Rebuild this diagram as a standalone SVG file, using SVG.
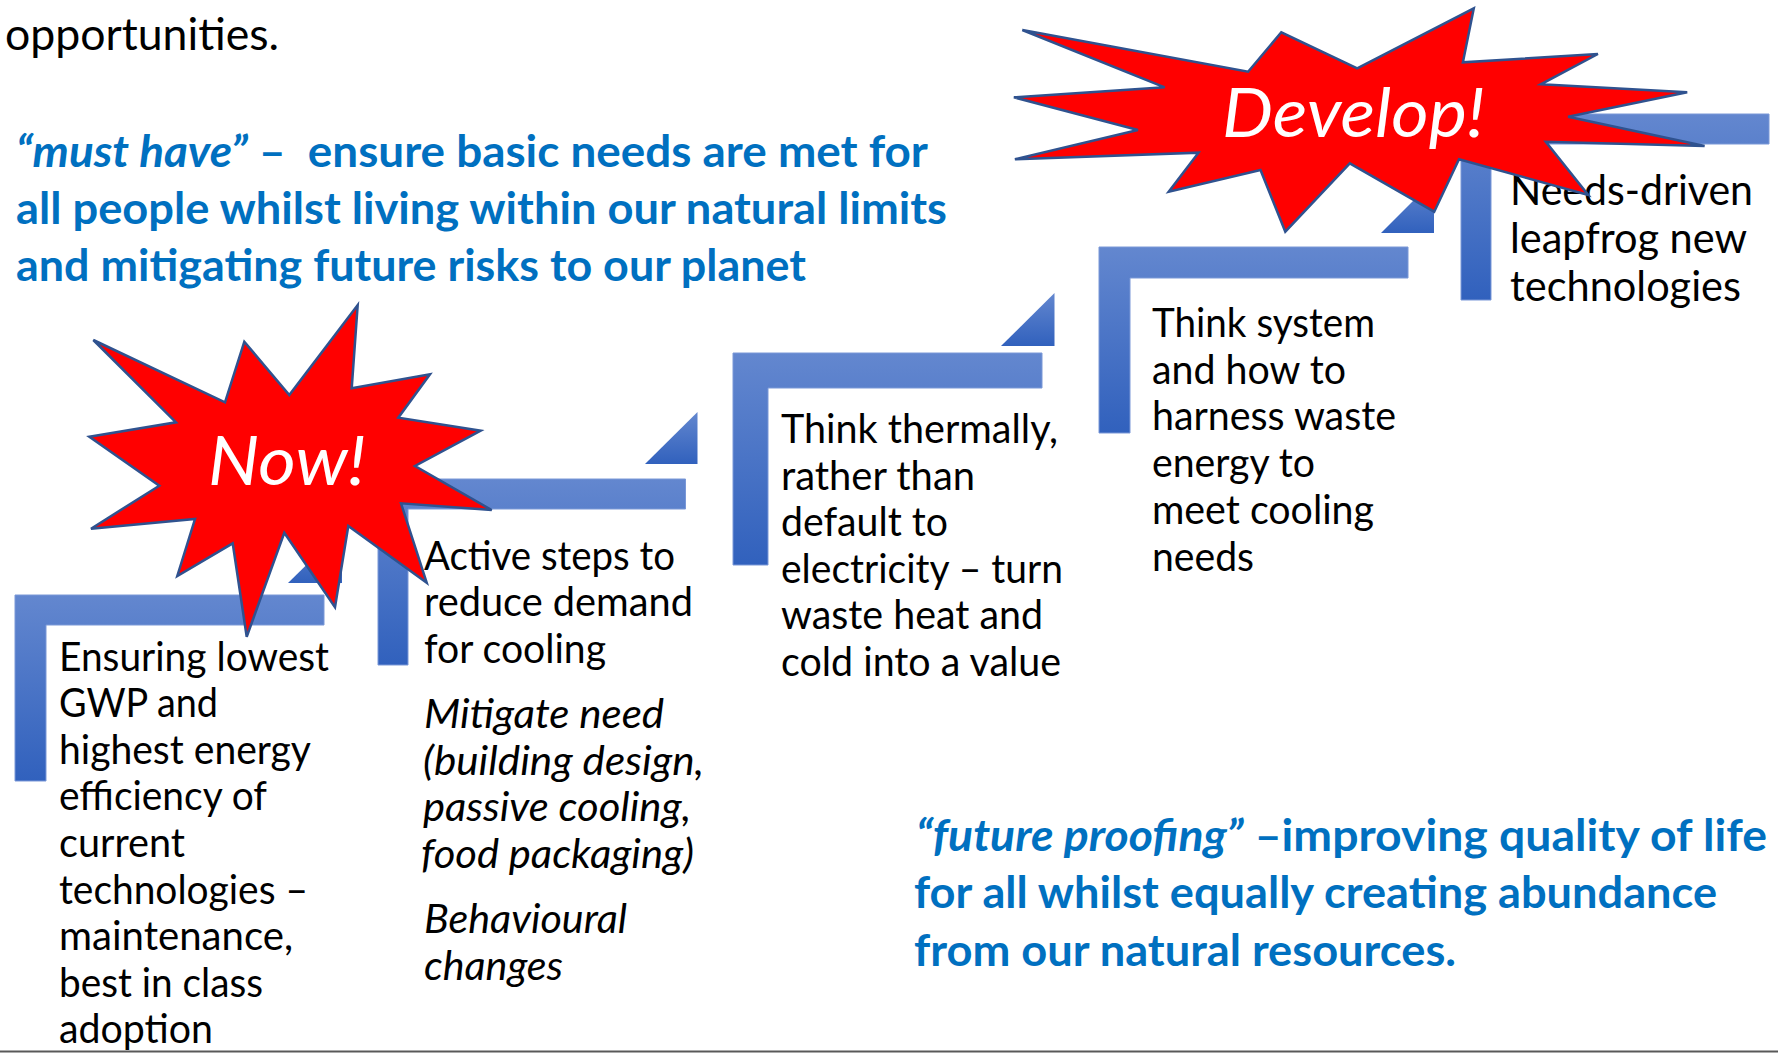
<svg xmlns="http://www.w3.org/2000/svg" width="1778" height="1053" viewBox="0 0 1778 1053">
  <defs>
    <linearGradient id="stepGrad" x1="0" y1="0" x2="0" y2="1">
      <stop offset="0" stop-color="#6387CF"/>
      <stop offset="1" stop-color="#3161BD"/>
    </linearGradient>
    <style>
      .step { fill: url(#stepGrad); stroke: #7A98D7; stroke-width: 1; }
      .tri { fill: url(#stepGrad); }
      .body { font-family: Lato, "Open Sans", sans-serif; font-size: 39.8px; fill: #000000; }
      .big { font-size: 42.2px; }
      .it { font-style: italic; }
      .blue { font-family: Lato, "Open Sans", sans-serif; font-weight: bold; font-size: 44.8px; fill: #0070C0; white-space: pre; }
      .head { font-family: Lato, "Open Sans", sans-serif; font-size: 44.5px; fill: #000000; }
      .burst { fill: #FF0000; stroke: #2F528F; stroke-width: 2.5; stroke-linejoin: miter; }
      .bursttext { font-family: Lato, "Open Sans", sans-serif; font-style: italic; font-size: 67px; fill: #FFFFFF; }
    </style>
  </defs>

  <rect x="0" y="0" width="1778" height="1053" fill="#FFFFFF"/>

  <g id="intro">
    <text class="head" x="5" y="50" textLength="274" lengthAdjust="spacingAndGlyphs">opportunities.</text>
  </g>

  <g id="must-have">
    <text class="blue" x="16" y="167" textLength="912" lengthAdjust="spacingAndGlyphs"><tspan font-style="italic">“must have”</tspan> –  ensure basic needs are met for</text>
    <text class="blue" x="16" y="224" textLength="931" lengthAdjust="spacingAndGlyphs">all people whilst living within our natural limits</text>
    <text class="blue" x="16" y="281" textLength="790" lengthAdjust="spacingAndGlyphs">and mitigating future risks to our planet</text>
  </g>

  <g id="future-proofing">
    <text class="blue" x="916" y="851" textLength="851" lengthAdjust="spacingAndGlyphs"><tspan font-style="italic">“future proofing”</tspan> –improving quality of life</text>
    <text class="blue" x="914" y="908" textLength="803" lengthAdjust="spacingAndGlyphs">for all whilst equally creating abundance</text>
    <text class="blue" x="914" y="966" textLength="542" lengthAdjust="spacingAndGlyphs">from our natural resources.</text>
  </g>

  <g id="connectors">
    <path class="tri" d="M288,583 H342 V530 Z"/>
    <path class="tri" d="M645,464 H697.5 V412 Z"/>
    <path class="tri" d="M1001,346 H1054.5 V293 Z"/>
    <path class="tri" d="M1381,233 H1434 V180 Z"/>
  </g>

  <g id="step1">
    <path class="step" d="M15,595 H324 V625 H46 V781 H15 Z"/>
    <text class="body" x="59" y="670.5" textLength="270" lengthAdjust="spacingAndGlyphs">Ensuring lowest</text>
    <text class="body" x="59" y="717.1" textLength="159" lengthAdjust="spacingAndGlyphs">GWP and</text>
    <text class="body" x="59" y="763.7" textLength="252" lengthAdjust="spacingAndGlyphs">highest energy</text>
    <text class="body" x="59" y="810.3" textLength="208" lengthAdjust="spacingAndGlyphs">efficiency of</text>
    <text class="body" x="59" y="856.9" textLength="126" lengthAdjust="spacingAndGlyphs">current</text>
    <text class="body" x="59" y="903.5" textLength="249" lengthAdjust="spacingAndGlyphs">technologies –</text>
    <text class="body" x="59" y="950.1" textLength="234" lengthAdjust="spacingAndGlyphs">maintenance,</text>
    <text class="body" x="59" y="996.7" textLength="204" lengthAdjust="spacingAndGlyphs">best in class</text>
    <text class="body" x="59" y="1043.3" textLength="154" lengthAdjust="spacingAndGlyphs">adoption</text>
  </g>

  <g id="step2">
    <path class="step" d="M378,479 H685.5 V509 H408 V665 H378 Z"/>
    <text class="body" x="424" y="569.5" textLength="251" lengthAdjust="spacingAndGlyphs">Active steps to</text>
    <text class="body" x="424" y="616" textLength="269" lengthAdjust="spacingAndGlyphs">reduce demand</text>
    <text class="body" x="424" y="662.5" textLength="182" lengthAdjust="spacingAndGlyphs">for cooling</text>
    <text class="body it" x="424" y="728" textLength="240" lengthAdjust="spacingAndGlyphs">Mitigate need</text>
    <text class="body it" x="423" y="774.6" textLength="281" lengthAdjust="spacingAndGlyphs">(building design,</text>
    <text class="body it" x="423" y="821.2" textLength="268" lengthAdjust="spacingAndGlyphs">passive cooling,</text>
    <text class="body it" x="421" y="867.8" textLength="273" lengthAdjust="spacingAndGlyphs">food packaging)</text>
    <text class="body it" x="424" y="933.3" textLength="203" lengthAdjust="spacingAndGlyphs">Behavioural</text>
    <text class="body it" x="424" y="980" textLength="139" lengthAdjust="spacingAndGlyphs">changes</text>
  </g>

  <g id="step3">
    <path class="step" d="M733,353 H1042 V388 H768 V565 H733 Z"/>
    <text class="body" x="781" y="443" textLength="277" lengthAdjust="spacingAndGlyphs">Think thermally,</text>
    <text class="body" x="781" y="489.6" textLength="194" lengthAdjust="spacingAndGlyphs">rather than</text>
    <text class="body" x="781" y="536.2" textLength="167" lengthAdjust="spacingAndGlyphs">default to</text>
    <text class="body" x="781" y="582.8" textLength="282" lengthAdjust="spacingAndGlyphs">electricity – turn</text>
    <text class="body" x="781" y="629.4" textLength="262" lengthAdjust="spacingAndGlyphs">waste heat and</text>
    <text class="body" x="781" y="676" textLength="280" lengthAdjust="spacingAndGlyphs">cold into a value</text>
  </g>

  <g id="step4">
    <path class="step" d="M1099,247 H1408 V278 H1130 V433 H1099 Z"/>
    <text class="body" x="1152" y="337" textLength="223" lengthAdjust="spacingAndGlyphs">Think system</text>
    <text class="body" x="1152" y="383.7" textLength="194" lengthAdjust="spacingAndGlyphs">and how to</text>
    <text class="body" x="1152" y="430.4" textLength="244" lengthAdjust="spacingAndGlyphs">harness waste</text>
    <text class="body" x="1152" y="477.1" textLength="163" lengthAdjust="spacingAndGlyphs">energy to</text>
    <text class="body" x="1152" y="523.8" textLength="222" lengthAdjust="spacingAndGlyphs">meet cooling</text>
    <text class="body" x="1152" y="570.5" textLength="102" lengthAdjust="spacingAndGlyphs">needs</text>
  </g>

  <g id="step5">
    <path class="step" d="M1461,114 H1769 V144 H1491 V300 H1461 Z"/>
    <text class="body big" x="1510" y="205" textLength="243" lengthAdjust="spacingAndGlyphs">Needs-driven</text>
    <text class="body big" x="1510" y="253" textLength="237" lengthAdjust="spacingAndGlyphs">leapfrog new</text>
    <text class="body big" x="1510" y="301" textLength="231" lengthAdjust="spacingAndGlyphs">technologies</text>
  </g>

  <g id="now-burst">
    <polygon class="burst" points="357.7,305 351.7,388.3 430,374.3 398.3,417.7 480.7,430.7 415,466 491.7,510 401,503.3 426.7,582.7 348.3,526 335,607.3 284.3,532.7 246.7,636.7 232.7,543.3 177.3,576 195,519 91,528.7 159.3,485.7 89.3,436.7 176,422.3 93.3,340 225,402.3 244.3,341.7 289.3,395"/>
    <text class="bursttext" x="208" y="485" textLength="158" lengthAdjust="spacingAndGlyphs">Now!</text>
  </g>

  <g id="develop-burst">
    <polygon class="burst" points="1473.8,8.3 1462.9,62.3 1597.9,54 1540.8,84.3 1687.2,92.3 1568.1,116.7 1704.6,146 1545.8,141.7 1588.3,195 1459,159.3 1434.2,211.7 1349.8,163.3 1285.3,231.7 1260.5,170 1168.7,191.7 1198.5,152.7 1014.9,159.3 1137.9,130 1013.9,97.3 1164.7,87.3 1022.3,30 1248.1,71.7 1281.3,32.3 1357.2,68.3"/>
    <text class="bursttext" x="1222" y="137" textLength="263" lengthAdjust="spacingAndGlyphs">Develop!</text>
  </g>

  <line x1="0" y1="1051.5" x2="1778" y2="1051.5" stroke="#595959" stroke-width="2"/>
</svg>
